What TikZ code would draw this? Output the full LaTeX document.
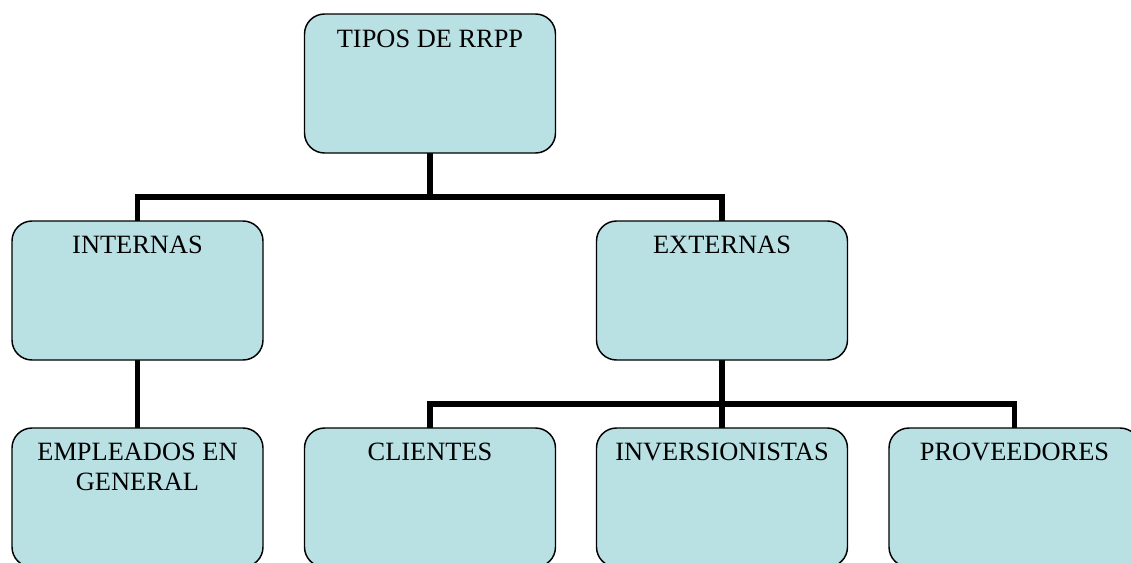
\documentclass[tikz,border=0pt]{standalone}
\usepackage{fontspec}
\setmainfont{Liberation Serif}
\definecolor{boxfill}{RGB}{185,224,227}
\begin{document}
\begin{tikzpicture}[x=0.75pt,y=-0.75pt,
  box/.style={draw=black, line width=1.1pt, fill=boxfill, rounded corners=15pt,
    rectangle, minimum width=188.25pt, minimum height=104.25pt, inner sep=0pt},
  lbl/.style={inner sep=0pt, anchor=base, align=center,
    font=\fontsize{19.8}{22.5}\selectfont},
  conn/.style={draw=black, line width=4.2pt, line join=miter}]
\useasboundingbox (0,0) rectangle (1131,562);
% connectors first (under boxes)
\coordinate (tS) at (430,153);
\coordinate (j1) at (430,197);
\coordinate (iN) at (137.5,221);
\coordinate (eN) at (722,221);
\coordinate (iS) at (137.5,360);
\coordinate (eS) at (722,360);
\coordinate (j2) at (722,404);
\coordinate (emN) at (137.5,428);
\coordinate (cN) at (430,428);
\coordinate (vN) at (722,428);
\coordinate (pN) at (1014.5,428);
\draw[conn] (tS) -- (j1);
\draw[conn] (iN) |- (j1) -| (eN);
\draw[conn] (iS) -- (emN);
\draw[conn] (eS) -- (vN);
\draw[conn] (cN) |- (j2) -| (pN);
% boxes
\node[box] (top) at (430,83.5) {};
\node[box] (int) at (137.5,290.5) {};
\node[box] (ext) at (722,290.5) {};
\node[box] (emp) at (137.5,497.5) {};
\node[box] (cli) at (430,497.5) {};
\node[box] (inv) at (722,497.5) {};
\node[box] (pro) at (1014.5,497.5) {};
% texts
\node[lbl] (topt) at (430,47) {TIPOS DE RRPP};
\node[lbl] (intt) at (137.5,253) {INTERNAS};
\node[lbl] (extt) at (722,253) {EXTERNAS};
\node[lbl] (empt) at (137.5,490) {EMPLEADOS EN\\GENERAL};
\node[lbl] (clit) at (430,460) {CLIENTES};
\node[lbl] (invt) at (722,460) {INVERSIONISTAS};
\node[lbl] (prot) at (1014.5,460) {PROVEEDORES};
\end{tikzpicture}
\end{document}
